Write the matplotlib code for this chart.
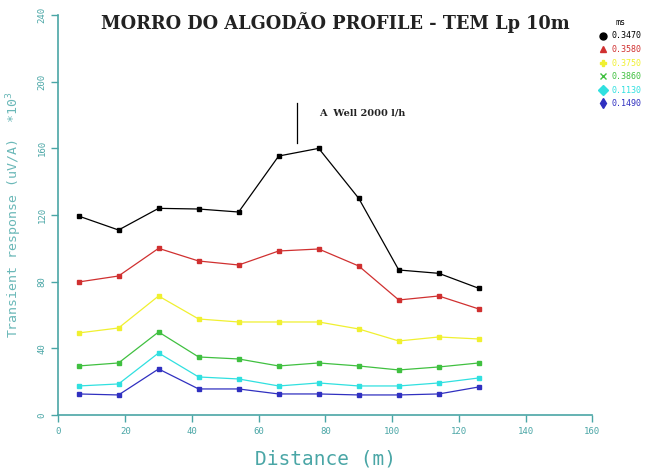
import matplotlib.pyplot as plt
from matplotlib.lines import Line2D

distance = [6, 18, 30, 42, 54, 66, 78, 90, 102, 114, 126]

resp_1 = [119.4, 111.0, 124.0, 123.6, 121.8, 155.4, 160.0, 130.0, 87.0, 85.0, 76.0]
resp_2 = [79.8, 83.4, 100.0, 92.4, 90.0, 98.4, 99.6, 89.4, 69.0, 71.4, 63.6]
resp_3 = [49.2, 52.2, 71.4, 57.6, 55.8, 55.8, 55.8, 51.6, 44.4, 46.8, 45.6]
resp_4 = [29.4, 31.2, 49.8, 34.8, 33.6, 29.4, 31.2, 29.4, 27.0, 28.8, 31.2]
resp_5 = [17.4, 18.6, 37.2, 22.8, 21.6, 17.4, 19.2, 17.4, 17.4, 19.2, 22.2]
resp_6 = [12.6, 12.0, 27.6, 15.6, 15.6, 12.6, 12.6, 12.0, 12.0, 12.6, 16.8]

gate_labels = ['0.3470', '0.3580', '0.3750', '0.3860', '0.1130', '0.1490']
colors = ['black', '#d03030', '#f0f030', '#40c040', '#30e0e0', '#3030c0']
markers = ['o', '^', 'P', 'x', 'D', 'd']

x_ticks = [0, 20, 40, 60, 80, 100, 120, 140, 160]
y_ticks = [0, 40, 80, 120, 160, 200, 240]

teal = '#4aa6a6'
mono = 'DejaVu Sans Mono'

fig = plt.figure(figsize=(6.47, 4.71), dpi=100)
ax = fig.add_axes([0.0904, 0.119, 0.825, 0.849])

series = [resp_1, resp_2, resp_3, resp_4, resp_5, resp_6]
for vals, c in zip(series, colors):
    ax.plot(distance, vals, color=c, lw=0.9, marker='s', ms=3.2,
            mec=c, mfc=c, clip_on=False)

ax.set_xlim(0, 160)
ax.set_ylim(0, 240)
ax.set_xticks(x_ticks)
ax.set_yticks(y_ticks)
for s in ['top', 'right']:
    ax.spines[s].set_visible(False)
for s in ['left', 'bottom']:
    ax.spines[s].set_color(teal)
    ax.spines[s].set_linewidth(1.2)
ax.tick_params(colors=teal, labelsize=6.5, length=5, width=1)
for lab in ax.get_xticklabels():
    lab.set_family(mono)
for lab in ax.get_yticklabels():
    lab.set_family(mono)
    lab.set_rotation(90)
    lab.set_va('center')

ax.set_xlabel('Distance (m)', color=teal, family=mono, fontsize=14, labelpad=10)
ax.set_ylabel('Transient response (uV/A)  *10$^3$', color='#6ab8b8', family=mono,
              fontsize=9.5, labelpad=10)

fig.text(0.518, 0.952, 'MORRO DO ALGODÃO PROFILE - TEM Lp 10m',
         ha='center', va='center', family='DejaVu Serif', fontweight='bold',
         fontsize=12.8, color='#222222')

# well location marker
ax.plot([71.5, 71.5], [163, 187], color='black', lw=0.9)
ax.text(78, 181, 'A  Well 2000 l/h', family='DejaVu Serif', fontweight='bold',
        fontsize=7, color='#222222', va='center')

handles = [Line2D([], [], ls='none', marker=m, color=c, ms=5)
           for m, c in zip(markers, colors)]
leg = fig.legend(handles, gate_labels, loc='upper left',
                 bbox_to_anchor=(0.915, 0.978), frameon=False,
                 prop={'family': mono, 'size': 6}, handlelength=0.8,
                 handletextpad=0.6, labelspacing=0.55, labelcolor=colors,
                 title='ms', title_fontproperties={'family': mono, 'size': 6})

fig.savefig('out.png')
